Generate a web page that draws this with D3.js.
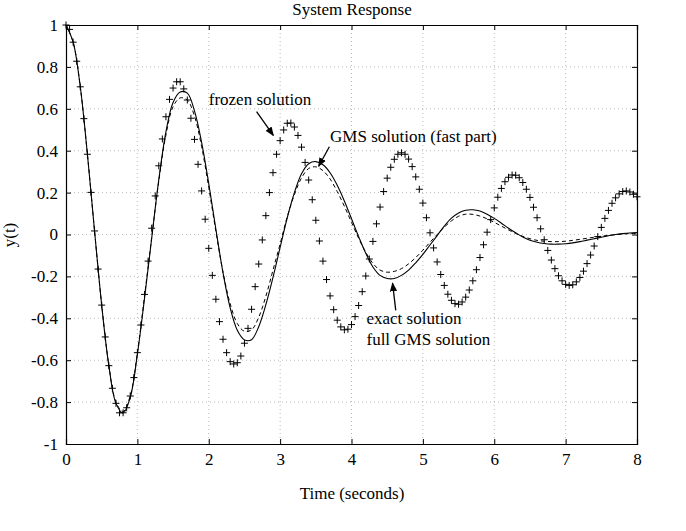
<!DOCTYPE html>
<html>
<head>
<meta charset="utf-8">
<script src="https://cdn.jsdelivr.net/npm/d3@7"></script>
<style>
  body { margin: 0; background: #fff; }
  text { font-family: "Liberation Serif", "Times New Roman", serif; fill: #000; }
</style>
</head>
<body>
<svg id="chart" width="686" height="531"></svg>
<script>
// sample spacing of the frozen solution markers (seconds)
const frozenStep = 0.05;
// sample spacing of the solid / dashed curves (seconds)
const curveStep = 0.1;

// frozen solution "+" markers, t = 0, 0.05, ... 8
const frozenValues = [
  1.000, 0.979, 0.918, 0.827, 0.705, 0.553, 0.383, 0.201, 0.017, -0.165,
  -0.337, -0.489, -0.626, -0.734, -0.806, -0.851, -0.851, -0.827, -0.771, -0.683,
  -0.564, -0.432, -0.286, -0.127, 0.030, 0.184, 0.328, 0.456, 0.562, 0.645,
  0.699, 0.729, 0.729, 0.695, 0.642, 0.555, 0.454, 0.335, 0.208, 0.073,
  -0.066, -0.195, -0.309, -0.416, -0.500, -0.564, -0.607, -0.618, -0.612, -0.580,
  -0.519, -0.448, -0.357, -0.249, -0.141, -0.026, 0.090, 0.200, 0.295, 0.383,
  0.448, 0.499, 0.531,
  0.532, 0.513, 0.473, 0.417, 0.344, 0.260, 0.166, 0.068, -0.031, -0.127,
  -0.215, -0.293, -0.359, -0.409, -0.441, -0.455, -0.452, -0.430, -0.392, -0.339,
  -0.273, -0.198, -0.117, -0.033, 0.051, 0.131, 0.205, 0.269, 0.321, 0.359,
  0.383, 0.390, 0.383, 0.360, 0.324, 0.275, 0.216, 0.150, 0.080, 0.008,
  -0.064, -0.131, -0.191, -0.243, -0.285, -0.314, -0.330, -0.333, -0.322, -0.299,
  -0.265, -0.221, -0.168, -0.110, -0.049, 0.011, 0.071, 0.127, 0.178, 0.220,
  0.252, 0.273, 0.284, 0.283, 0.271, 0.248, 0.216, 0.177, 0.130, 0.080,
  0.027, -0.025, -0.076, -0.122, -0.163, -0.197, -0.221, -0.238, -0.243, -0.240,
  -0.226, -0.205, -0.175, -0.139, -0.098, -0.055, -0.010, 0.034, 0.077, 0.115,
  0.149, 0.175, 0.194, 0.205, 0.208, 0.203, 0.192, 0.180
];

// exact solution (solid), t = 0, 0.1, ... 8
const exactValues = [
  1.000, 0.918, 0.705, 0.383, 0.017, -0.337, -0.626, -0.806, -0.852, -0.778,
  -0.572, -0.305, -0.020, 0.262, 0.490, 0.630, 0.680, 0.675, 0.590, 0.440,
  0.243, 0.025, -0.183, -0.350, -0.457, -0.503, -0.502, -0.440, -0.335, -0.205,
  -0.062, 0.080, 0.200, 0.290, 0.338, 0.348, 0.333, 0.295, 0.235, 0.160,
  0.075, -0.010, -0.090, -0.155, -0.195, -0.210, -0.210, -0.195, -0.170, -0.135,
  -0.095, -0.050, -0.005, 0.040, 0.078, 0.103, 0.116, 0.118, 0.112, 0.097,
  0.077, 0.054, 0.030, 0.008, -0.012, -0.027, -0.037, -0.043, -0.046, -0.046,
  -0.044, -0.040, -0.034, -0.027, -0.020, -0.013, -0.006, 0.000, 0.004, 0.007,
  0.009
];

// full GMS solution (dashed), t = 0, 0.1, ... 8
const gmsValues = [
  1.000, 0.918, 0.705, 0.383, 0.017, -0.335, -0.622, -0.800, -0.845, -0.770,
  -0.565, -0.295, -0.015, 0.255, 0.475, 0.610, 0.652, 0.642, 0.565, 0.420,
  0.225, 0.015, -0.180, -0.330, -0.425, -0.462, -0.455, -0.395, -0.295, -0.170,
  -0.045, 0.085, 0.190, 0.270, 0.315, 0.323, 0.305, 0.265, 0.205, 0.135,
  0.058, -0.018, -0.085, -0.138, -0.170, -0.180, -0.176, -0.163, -0.140, -0.110,
  -0.075, -0.037, 0.000, 0.035, 0.065, 0.087, 0.097, 0.096, 0.088, 0.075,
  0.058, 0.040, 0.022, 0.005, -0.009, -0.020, -0.028, -0.032, -0.034, -0.034,
  -0.032, -0.028, -0.023, -0.018, -0.013, -0.008, -0.004, -0.001, 0.002, 0.004,
  0.005
];

const xTicks = [0, 1, 2, 3, 4, 5, 6, 7, 8];
const yTicks = [-1, -0.8, -0.6, -0.4, -0.2, 0, 0.2, 0.4, 0.6, 0.8, 1];

// annotation text and arrows, in data units
const notes = [
  { lines: ["frozen solution"], x: 2.0, y: 0.642, from: [2.67, 0.586], to: [2.905, 0.473] },
  { lines: ["GMS solution (fast part)"], x: 3.70, y: 0.464, from: [3.69, 0.419], to: [3.54, 0.326] },
  { lines: ["exact solution", "full GMS solution"], x: 4.21, y: -0.405, from: [4.62, -0.362], to: [4.575, -0.232] }
];

const margin = { top: 25, right: 49, bottom: 87, left: 66 };
const W = 686, H = 531;
const w = W - margin.left - margin.right;
const h = H - margin.top - margin.bottom;
const fontSize = "17px";

const svg = d3.select("#chart");
const g = svg.append("g").attr("transform", `translate(${margin.left},${margin.top})`);

const x = d3.scaleLinear().domain([0, 8]).range([0, w]);
const y = d3.scaleLinear().domain([-1, 1]).range([h, 0]);

// dotted grid
g.append("g").selectAll("line").data(xTicks.slice(1, -1)).enter().append("line")
  .attr("x1", d => x(d)).attr("x2", d => x(d)).attr("y1", 0).attr("y2", h)
  .attr("stroke", "#aaa").attr("stroke-width", 0.8).attr("stroke-dasharray", "1,3");
g.append("g").selectAll("line").data(yTicks.slice(1, -1)).enter().append("line")
  .attr("y1", d => y(d)).attr("y2", d => y(d)).attr("x1", 0).attr("x2", w)
  .attr("stroke", "#aaa").attr("stroke-width", 0.8).attr("stroke-dasharray", "1,3");

// axes: ticks point inward on all four sides
const fmt = d => d3.format("")(d).replace("−", "-");
const axB = g.append("g").attr("transform", `translate(0,${h})`)
  .call(d3.axisBottom(x).tickValues(xTicks).tickSize(-5).tickPadding(9).tickFormat(fmt));
const axT = g.append("g").call(d3.axisTop(x).tickValues(xTicks).tickSize(-5).tickFormat(""));
const axL = g.append("g")
  .call(d3.axisLeft(y).tickValues(yTicks).tickSize(-5).tickPadding(8).tickFormat(fmt));
const axR = g.append("g").attr("transform", `translate(${w},0)`)
  .call(d3.axisRight(y).tickValues(yTicks).tickSize(-5).tickFormat(""));
[axB, axT, axL, axR].forEach(a => {
  a.select(".domain").attr("stroke", "#000").attr("stroke-width", 1.2);
  a.selectAll(".tick line").attr("stroke", "#000");
  a.selectAll("text").attr("font-size", fontSize).attr("font-family", "Liberation Serif, serif").attr("fill", "#000");
});

// curves
const line = d3.line()
  .x((d, i) => x(i * curveStep))
  .y(d => y(d))
  .curve(d3.curveCatmullRom);

g.append("path").datum(exactValues).attr("d", line)
  .attr("fill", "none").attr("stroke", "#000").attr("stroke-width", 1.1);
g.append("path").datum(gmsValues).attr("d", line)
  .attr("fill", "none").attr("stroke", "#000").attr("stroke-width", 1)
  .attr("stroke-dasharray", "4,3");

// frozen solution markers
g.append("g").selectAll("path").data(frozenValues).enter().append("path")
  .attr("transform", (d, i) => `translate(${x(i * frozenStep)},${y(d)})`)
  .attr("d", "M-3.5,0H3.5M0,-3.5V3.5")
  .attr("stroke", "#000").attr("stroke-width", 1);

// arrows
svg.append("defs").append("marker")
  .attr("id", "head").attr("viewBox", "0 0 10 10").attr("refX", 9).attr("refY", 5)
  .attr("markerWidth", 7).attr("markerHeight", 7).attr("orient", "auto")
  .append("path").attr("d", "M0,1L10,5L0,9Z").attr("fill", "#000");

notes.forEach(n => {
  g.append("line")
    .attr("x1", x(n.from[0])).attr("y1", y(n.from[1]))
    .attr("x2", x(n.to[0])).attr("y2", y(n.to[1]))
    .attr("stroke", "#000").attr("stroke-width", 1.3)
    .attr("marker-end", "url(#head)");
  n.lines.forEach((s, k) => {
    g.append("text")
      .attr("x", x(n.x)).attr("y", y(n.y) + 5 + k * 21)
      .attr("font-size", fontSize)
      .text(s);
  });
});

// titles
svg.append("text").attr("x", 352).attr("y", 15).attr("text-anchor", "middle")
  .attr("font-size", fontSize).text("System Response");
svg.append("text").attr("x", 352).attr("y", 499).attr("text-anchor", "middle")
  .attr("font-size", fontSize).text("Time (seconds)");
svg.append("text").attr("transform", "translate(15,235) rotate(-90)")
  .attr("text-anchor", "middle").attr("font-size", fontSize).text("y(t)");
</script>
</body>
</html>
